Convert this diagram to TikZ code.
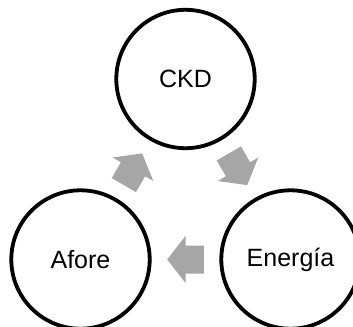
\documentclass[tikz,border=0pt]{standalone}
\usepackage{fontspec}
\setmainfont{Liberation Sans}
\usetikzlibrary{calc}
\definecolor{arrowgray}{RGB}{166,166,166}
\begin{document}
\begin{tikzpicture}[x=1bp,y=-1bp,
  stage/.style={circle, draw=black, line width=3.8bp, minimum size=138.4bp,
    inner sep=0pt, font=\fontsize{25bp}{29bp}\selectfont},
  cyclearrow/.pic={
    \fill[arrowgray] (-18.3,-14) -- (0,-14) -- (0,-23.5) -- (18.3,0)
      -- (0,23.5) -- (0,14) -- (-18.3,14) -- cycle;}]
  \clip (0,0) rectangle (353,327);

  % the three stages of the cycle
  \node[stage] (ckd)     at (185.5,79)    {CKD};
  \node[stage] (energia) at (290.5,259.5) {Energía};
  \node[stage] (afore)   at (80.5,259.5)  {Afore};

  % block arrows halfway between consecutive stages
  \coordinate (a1) at ($(ckd)!0.5!(energia)$);
  \coordinate (a2) at ($(energia)!0.5!(afore)$);
  \coordinate (a3) at ($(afore)!0.5!(ckd)$);
  \pic[rotate=-60] at (a1) {cyclearrow};
  \pic[rotate=180] at (a2) {cyclearrow};
  \pic[rotate=60]  at (a3) {cyclearrow};
\end{tikzpicture}
\end{document}
